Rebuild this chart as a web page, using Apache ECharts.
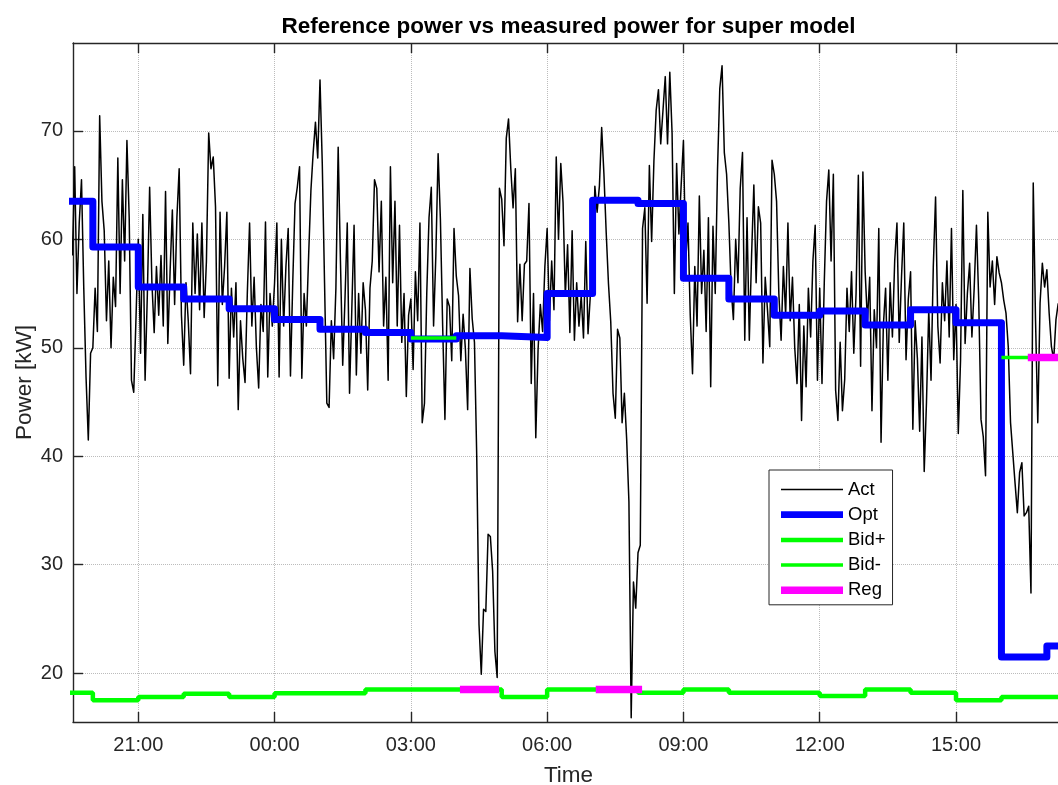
<!DOCTYPE html>
<html>
<head>
<meta charset="utf-8">
<title>Reference power vs measured power</title>
<script src="https://cdn.jsdelivr.net/npm/echarts@6/dist/echarts.min.js"></script>
<style>
  html, body { margin: 0; padding: 0; background: #ffffff; }
  #chart { width: 1058px; height: 785px; }
</style>
</head>
<body>
<div id="chart"></div>
<script>
// ---- data -------------------------------------------------------------
const titleText = 'Reference power vs measured power for super model';

// time is expressed in hours counted from midnight of the first day (24 = 00:00 next day)
const xTickHours = [21, 24, 27, 30, 33, 36, 39];
const yTickValues = [20, 30, 40, 50, 60, 70];

// measured power, one sample every 3 minutes starting 19:33
const actStartHour = 19 + 33 / 60;
const actStepMinutes = 3;
const actKw = [
  // 19:33
  58.5, 66.7, 55.0, 61.5, 65.5, 55.5, 47.3, 41.5, 49.5,
  // 20:00
  50.0, 55.5, 51.5, 71.4, 63.5, 60.8, 52.5, 58.0, 50.0, 56.5, 53.8, 67.5, 55.0, 65.5, 58.0, 69.1, 62.0, 47.0, 45.9, 52.8,
  // 21:00
  60.0, 49.5, 62.3, 47.0, 55.0, 64.8, 56.0, 51.4, 57.5, 53.0, 58.5, 52.0, 64.4, 50.4, 57.0, 62.7, 54.0, 62.0, 66.5, 53.0,
  // 22:00
  48.4, 56.0, 52.5, 47.6, 61.5, 55.0, 60.5, 53.5, 61.5, 52.8, 58.0, 69.8, 66.5, 67.6, 63.0, 46.5, 62.5, 54.0, 57.5, 62.5,
  // 23:00
  47.2, 55.5, 51.0, 56.0, 44.3, 52.5, 49.0, 46.8, 55.0, 61.5, 52.0, 56.5, 50.0, 46.3, 54.0, 51.5, 61.6, 47.3, 55.0, 52.0,
  // 00:00
  56.0, 61.5, 47.3, 60.0, 52.0, 57.5, 61.0, 47.4, 56.0, 63.3, 64.8, 66.7, 47.2, 55.0, 52.0, 58.5, 64.5, 68.0, 70.8, 67.5,
  // 01:00
  74.7, 67.0, 56.0, 44.9, 44.5, 52.5, 49.0, 55.5, 68.5, 58.0, 48.4, 54.5, 61.5, 45.8, 53.5, 61.3, 47.5, 55.0, 49.5, 56.0,
  // 02:00
  53.5, 46.1, 55.5, 58.0, 65.5, 64.7, 57.0, 63.5, 52.0, 56.5, 47.0, 66.7, 56.0, 63.5, 52.0, 61.3, 50.5, 55.0, 45.5, 53.0,
  // 03:00
  54.5, 48.0, 57.0, 52.5, 61.5, 43.1, 44.9, 55.0, 62.0, 64.8, 52.0, 58.5, 67.9, 61.9, 52.0, 43.4, 54.5, 53.8, 48.8, 61.0,
  // 04:00
  56.6, 54.8, 48.8, 53.1, 49.9, 44.3, 57.3, 52.7, 50.5, 40.0, 24.5, 19.9, 25.9, 25.7, 32.8, 32.6, 29.4, 22.0, 19.6, 64.7,
  // 05:00
  63.7, 59.4, 69.3, 71.1, 66.5, 62.9, 66.5, 52.4, 57.7, 52.5, 57.7, 58.0, 63.3, 46.7, 55.0, 41.7, 49.8, 54.0, 51.5, 57.5,
  // 06:00
  61.0, 52.5, 58.0, 53.5, 67.6, 60.0, 67.0, 63.4, 54.8, 59.5, 51.4, 60.8, 50.7, 56.0, 52.0, 54.8, 50.9, 59.8, 51.3, 54.8,
  // 07:00
  55.0, 64.9, 62.5, 64.9, 70.3, 66.0, 60.6, 55.9, 52.4, 45.8, 43.5, 51.7, 50.9, 43.1, 45.8, 41.6, 35.8, 15.9, 28.4, 26.0,
  // 08:00
  31.1, 31.8, 61.0, 62.9, 54.1, 66.8, 59.8, 67.2, 71.9, 73.8, 68.8, 71.9, 75.0, 68.8, 75.4, 69.8, 55.0, 67.0, 60.5, 65.0,
  // 09:00
  69.1, 58.0, 61.5, 53.0, 47.6, 57.5, 52.0, 64.0, 55.0, 59.0, 51.5, 62.0, 46.4, 61.2, 55.0, 66.4, 73.9, 76.0, 68.0, 66.0,
  // 10:00
  61.5, 55.5, 52.6, 60.0, 56.0, 64.7, 68.0, 50.7, 62.0, 50.7, 58.5, 65.0, 56.0, 63.0, 61.5, 48.6, 56.5, 53.5, 50.1, 67.3,
  // 11:00
  66.0, 63.5, 55.0, 50.7, 57.5, 53.0, 61.5, 52.5, 56.5, 50.0, 46.7, 54.0, 43.3, 52.0, 46.4, 55.5, 51.0, 58.0, 61.3, 47.0,
  // 12:00
  55.5, 46.7, 56.0, 63.5, 66.4, 58.0, 66.0, 46.1, 43.3, 50.5, 44.2, 47.1, 55.5, 51.5, 57.0, 49.5, 55.0, 65.9, 48.3, 66.2,
  // 13:00
  57.0, 52.5, 56.5, 44.2, 53.5, 50.0, 61.0, 41.3, 52.0, 55.5, 47.0, 56.0, 51.0, 58.0, 61.5, 50.5, 56.5, 61.5, 48.9, 54.5,
  // 14:00
  57.0, 42.5, 52.5, 49.0, 42.3, 51.0, 38.6, 45.0, 53.5, 47.0, 57.5, 63.9, 52.0, 48.6, 56.0, 52.5, 58.0, 51.0, 61.0, 48.9,
  // 15:00
  54.0, 42.1, 48.9, 64.5, 50.4, 55.0, 57.8, 51.0, 55.5, 61.3, 54.4, 43.4, 41.8, 38.2, 62.5, 55.6, 58.0, 54.0, 58.4, 56.9,
  // 16:00
  56.0, 54.4, 53.2, 50.1, 43.1, 40.3, 37.5, 34.8, 38.5, 39.4, 34.5, 34.8, 35.4, 27.4, 65.2, 52.6, 43.1, 54.1, 57.8, 55.6,
  // 17:00
  57.2, 53.2, 50.1, 48.9, 52.6, 54.1
];

// hourly optimal reference (value holds from the listed hour to the next)
const optHours = [19, 20, 21, 22, 23, 24, 25, 26, 27, 28, 29, 30, 31, 32, 33, 34, 35, 36, 37, 38, 39, 40, 41];
const optKw    = [63.5, 59.3, 55.6, 54.5, 53.6, 52.6, 51.7, 51.4, 50.8, 51.1, 50.95, 55.0, 63.6, 63.3, 56.4, 54.5, 53.0, 53.4, 52.1, 53.5, 52.3, 21.5, 22.5];

// hourly upward bid level
const bidUpKw  = [18.2, 17.5, 17.8, 18.1, 17.8, 18.15, 18.15, 18.5, 18.5, 18.5, 17.8, 18.5, 18.5, 18.2, 18.5, 18.2, 18.2, 17.9, 18.5, 18.2, 17.5, 17.8, 17.8];

// downward bid, only in some hours
const bidDownFrom = [27, 40];
const bidDownTo   = [28, 42];
const bidDownKw   = [50.9, 49.1];

// regulation periods
const regFrom = [28.08, 31.07, 40.58];
const regTo   = [28.94, 32.09, 42];
const regKw   = [18.5, 18.5, 49.1];

// ---- helpers ----------------------------------------------------------
const X_MIN = 19.563;
const X_MAX = 41.377;
const FONT = '"Liberation Sans", Arial, Helvetica, sans-serif';
const AXIS_COLOR = '#262626';

function hourLabel(v) {
  const h = ((Math.round(v) % 24) + 24) % 24;
  return (h < 10 ? '0' : '') + h + ':00';
}

function stepData(hours, values) {
  const d = hours.map((h, i) => [h, values[i]]);
  d.push([hours[hours.length - 1] + 1, values[values.length - 1]]);
  return d;
}

function segmentData(from, to, values) {
  const d = [];
  from.forEach((f, i) => {
    if (i > 0) d.push([f, '-']);
    d.push([f, values[i]]);
    d.push([to[i], values[i]]);
  });
  return d;
}

const actData = actKw.map((v, i) => [actStartHour + i * actStepMinutes / 60, v]);

// ---- chart ------------------------------------------------------------
const chart = echarts.init(document.getElementById('chart'), null, { renderer: 'canvas' });

const gridLine = { show: true, lineStyle: { type: 'dotted', color: '#bcbcbc', width: 1 } };

chart.setOption({
  animation: false,
  backgroundColor: '#ffffff',
  textStyle: { fontFamily: FONT },
  graphic: [{
    type: 'text',
    x: 568.5,
    y: 26.5,
    style: {
      text: titleText,
      font: 'bold 22.5px ' + FONT,
      fill: '#000000',
      textAlign: 'center',
      textVerticalAlign: 'middle',
      align: 'center',
      verticalAlign: 'middle'
    }
  }],
  // the axes box runs a few pixels past the right edge of the canvas
  grid: { left: 73, top: 43, width: 991, height: 679, containLabel: false, outerBoundsMode: 'none' },
  legend: {
    orient: 'vertical',
    left: 769,
    top: 470,
    padding: [10, 7, 5, 12],
    itemWidth: 62,
    itemHeight: 14,
    itemGap: 6.2,
    symbolKeepAspect: true,
    backgroundColor: '#ffffff',
    borderColor: AXIS_COLOR,
    borderWidth: 1,
    borderRadius: 0,
    textStyle: { fontFamily: FONT, fontSize: 18.5, color: '#000000' },
    selectedMode: false,
    data: [
      { name: 'Act',  icon: 'path://M0,0H62V1.4H0Z' },
      { name: 'Opt',  icon: 'path://M0,0H64V7H0Z' },
      { name: 'Bid+', icon: 'path://M0,0H62V4.5H0Z' },
      { name: 'Bid-', icon: 'path://M0,0H62V3.5H0Z' },
      { name: 'Reg',  icon: 'path://M0,0H63V7.5H0Z' }
    ]
  },
  xAxis: [{
    type: 'value',
    position: 'bottom',
    min: X_MIN,
    max: X_MAX,
    name: 'Time',
    nameLocation: 'middle',
    nameGap: 42,
    nameMoveOverlap: false,
    nameTextStyle: { fontFamily: FONT, fontSize: 22.5, color: AXIS_COLOR },
    axisLine: { show: true, onZero: false, lineStyle: { color: AXIS_COLOR, width: 1.4 } },
    axisTick: { show: true, inside: true, length: 10, customValues: xTickHours, lineStyle: { color: AXIS_COLOR, width: 1.4 } },
    axisLabel: { show: true, customValues: xTickHours, formatter: hourLabel, margin: 13.5, fontFamily: FONT, fontSize: 20, color: AXIS_COLOR },
    splitLine: gridLine
  }, {
    type: 'value',
    position: 'top',
    min: X_MIN,
    max: X_MAX,
    axisLine: { show: true, onZero: false, lineStyle: { color: AXIS_COLOR, width: 1.4 } },
    axisTick: { show: true, inside: true, length: 10, customValues: xTickHours, lineStyle: { color: AXIS_COLOR, width: 1.4 } },
    axisLabel: { show: false },
    splitLine: { show: false }
  }],
  yAxis: {
    type: 'value',
    min: 15.5,
    max: 78.1,
    name: 'Power [kW]',
    nameLocation: 'middle',
    nameGap: 37,
    nameMoveOverlap: false,
    nameTextStyle: { fontFamily: FONT, fontSize: 22.5, color: AXIS_COLOR },
    axisLine: { show: true, onZero: false, lineStyle: { color: AXIS_COLOR, width: 1.4 } },
    axisTick: { show: true, inside: true, length: 10, customValues: yTickValues, lineStyle: { color: AXIS_COLOR, width: 1.4 } },
    axisLabel: { show: true, customValues: yTickValues, margin: 10, fontFamily: FONT, fontSize: 20, color: AXIS_COLOR },
    splitLine: gridLine
  },
  series: [
    {
      name: 'Act', type: 'line', xAxisIndex: 0, data: actData,
      showSymbol: false, symbol: 'none',
      itemStyle: { color: '#000000' },
      lineStyle: { color: '#000000', width: 1.5, join: 'round' }
    },
    {
      name: 'Opt', type: 'line', xAxisIndex: 0, data: stepData(optHours, optKw), step: 'end',
      showSymbol: false, symbol: 'none',
      itemStyle: { color: '#0000ff' },
      lineStyle: { color: '#0000ff', width: 7, join: 'round' }
    },
    {
      name: 'Bid+', type: 'line', xAxisIndex: 0, data: stepData(optHours, bidUpKw), step: 'end',
      showSymbol: false, symbol: 'none',
      itemStyle: { color: '#00ff00' },
      lineStyle: { color: '#00ff00', width: 4.5 }
    },
    {
      name: 'Bid-', type: 'line', xAxisIndex: 0, data: segmentData(bidDownFrom, bidDownTo, bidDownKw),
      showSymbol: false, symbol: 'none', connectNulls: false,
      itemStyle: { color: '#00ff00' },
      lineStyle: { color: '#00ff00', width: 3.5 }
    },
    {
      name: 'Reg', type: 'line', xAxisIndex: 0, data: segmentData(regFrom, regTo, regKw),
      showSymbol: false, symbol: 'none', connectNulls: false,
      itemStyle: { color: '#ff00ff' },
      lineStyle: { color: '#ff00ff', width: 7.5 }
    }
  ]
});
</script>
</body>
</html>
